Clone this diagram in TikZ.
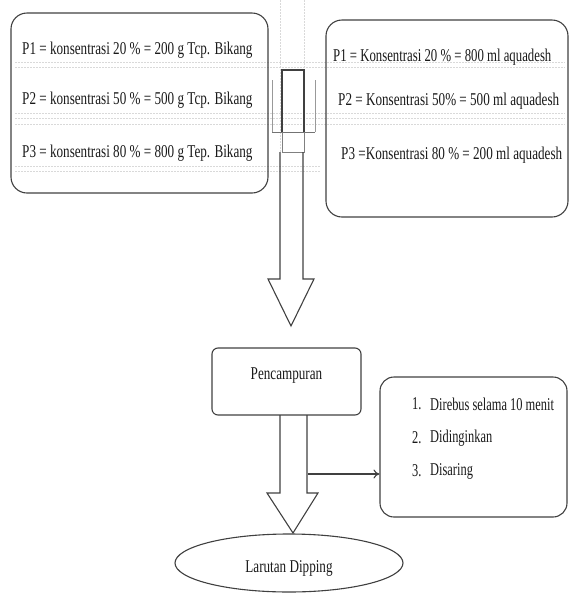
\documentclass[tikz,border=0pt]{standalone}
\usepackage{fontspec}
\setmainfont{Liberation Serif}
\usetikzlibrary{shapes.geometric,arrows.meta}
\newcommand{\nx}[1]{\scalebox{0.73}[1]{#1}}
\newcommand{\ny}[1]{\scalebox{0.69}[1]{#1}}
\begin{document}
\begin{tikzpicture}[x=1pt,y=-1pt,
  line/.style={draw=black!75,line width=1.1pt},
  rbox/.style={line,rectangle,inner sep=0pt},
  txt/.style={inner sep=0pt,anchor=west,text=black!90,font=\fontsize{18}{20}\selectfont},
  ctxt/.style={inner sep=0pt,text=black!90,font=\fontsize{18}{20}\selectfont},
  guide/.style={draw=black!15,line width=0.5pt,dash pattern=on 1.5pt off 1.5pt}]
\useasboundingbox (0,0) rectangle (569,598);
% faint guide lines
\draw[guide] (15,62) -- (565,62);
\draw[guide] (15,67) -- (565,67);
\draw[guide] (15,113) -- (565,113);
\draw[guide] (15,118) -- (565,118);
\draw[guide] (15,124) -- (565,124);
\draw[guide] (15,166) -- (320,166);
\draw[guide] (15,171) -- (320,171);
\draw[guide] (280,0) -- (280,152);
\draw[guide] (304,0) -- (304,152);
% boxes
\node[rbox,rounded corners=16pt,minimum width=257pt,minimum height=180pt] (L) at (139.5,103) {};
\node[rbox,rounded corners=16pt,minimum width=242pt,minimum height=197pt] (R) at (447,118.5) {};
\node[rbox,rounded corners=6pt,minimum width=149pt,minimum height=67pt] (M) at (286.5,381.5) {};
\node[rbox,rounded corners=14pt,minimum width=187pt,minimum height=140pt] (P) at (473.5,447) {};
\node[line,ellipse,inner sep=0pt,minimum width=228pt,minimum height=58pt] (E) at (289,563) {};
% left box texts
\node[txt] (l1) at (22,50) {\nx{P1 = konsentrasi 20 \% = 200 g Tcp. Bikang}};
\node[txt] (l2) at (22,100) {\nx{P2 = konsentrasi 50 \% = 500 g Tcp. Bikang}};
\node[txt] (l3) at (22,153) {\nx{P3 = konsentrasi 80 \% = 800 g Tep. Bikang}};
% right box texts
\node[txt] (r1) at (333,57) {\scalebox{0.71}[1]{P1 = Konsentrasi 20 \% = 800 ml aquadesh}};
\node[txt] (r2) at (338,101) {\nx{P2 = Konsentrasi 50\% = 500 ml aquadesh}};
\node[txt] (r3) at (341,155) {\nx{P3 =Konsentrasi 80 \% = 200 ml aquadesh}};
% middle texts
\node[ctxt] (mt) at (M.center) [yshift=6pt] {\nx{Pencampuran}};
\node[ctxt] (et) at (E.center) [yshift=-5pt] {\nx{Larutan Dipping}};
\node[txt] (p1n) at (412,404) {\ny{1.}};
\node[txt] (p1) at (430,404) {\ny{Direbus selama 10 menit}};
\node[txt] (p2n) at (412,438) {\ny{2.}};
\node[txt] (p2) at (430,438) {\ny{Didinginkan}};
\node[txt] (p3n) at (412,471) {\ny{3.}};
\node[txt] (p3) at (430,471) {\ny{Disaring}};
% plus-like mark in the middle
\draw[line] (282,132) -- (282,70) -- (304,70) -- (304,132);
\draw[draw=black!55,line width=0.9pt] (272,132) -- (315,132);
\draw[draw=black!40,line width=0.8pt] (272,80) -- (272,132);
\draw[draw=black!40,line width=0.8pt] (315,80) -- (315,132);
\draw[draw=black!50,line width=0.8pt] (282,132) -- (282,152) -- (304,152) -- (304,132);
% block arrow 1
\coordinate (a1) at (291,326);
\draw[line,line join=miter] (280,152) -- (280,279) -- (268,279) -- (a1) -- (314,279) -- (303,279) -- (303,152);
% block arrow 2
\coordinate (a2) at (293,533);
\draw[line,line join=miter] (280,415) -- (280,493) -- (267,493) -- (a2) -- (318,493) -- (307,493) -- (307,415);
% side arrow
\coordinate (s) at (308,474);
\draw[line,-{To[length=6pt,width=9pt]}] (s) -- (s -| P.west);
\end{tikzpicture}
\end{document}
